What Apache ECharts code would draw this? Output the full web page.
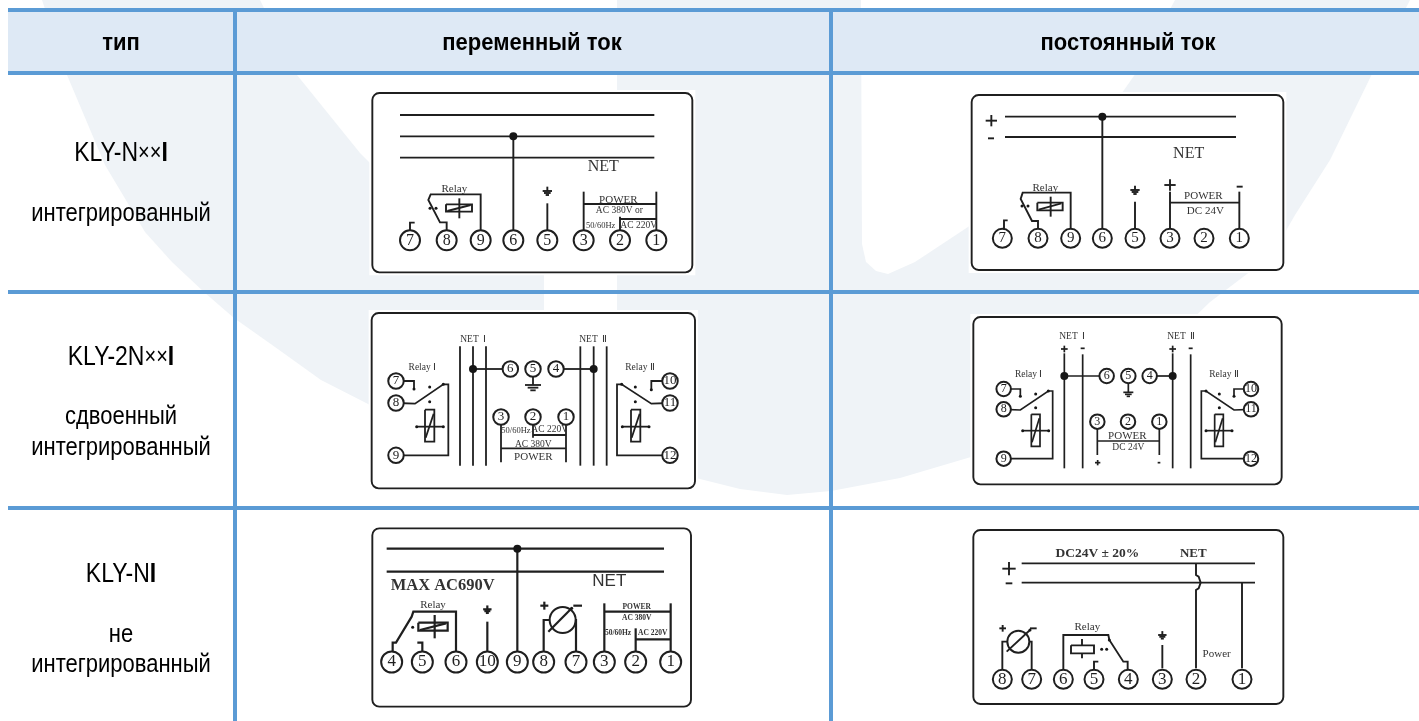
<!DOCTYPE html>
<html>
<head>
<meta charset="utf-8">
<title>KLY</title>
<style>
  html, body { margin: 0; padding: 0; background: #fff; }
  #chart { width: 1419px; height: 721px; }
</style>
<script src="https://cdn.jsdelivr.net/npm/echarts@6/dist/echarts.min.js"></script>
</head>
<body>
<div id="chart"></div>
<script>
// table text
const headerLabels = ['тип', 'переменный ток', 'постоянный ток'];
const headerX = [121, 532, 1128];
const rowLabels = [
  ['{m|KLY-N}{x|××}{b|I}', 121, 153],
  ['интегрированный', 121, 214],
  ['{m|KLY-2N}{x|××}{b|I}', 121, 357],
  ['сдвоенный', 121, 417],
  ['интегрированный', 121, 448],
  ['{m|KLY-N}{b|I}', 121, 574],
  ['не', 121, 635],
  ['интегрированный', 121, 665]
];

// table rules, picture pixels
const tableRules = [
  [[8, 10], [1419, 10]], [[8, 73], [1419, 73]], [[8, 292], [1419, 292]], [[8, 508], [1419, 508]],
  [[235, 10], [235, 721]], [[831, 10], [831, 721]]
];
const headerBand = [[8, 10], [1419, 10], [1419, 73], [8, 73]];

// pale logo behind the table
const logoOutline = [
  [42, 0], [1410, 0], [1371, 76], [1330, 160], [1295, 215], [1272, 255], [1210, 302], [1150, 360], [1060, 420],
  [971, 457], [900, 478], [831, 491], [787, 495], [740, 489], [696, 478], [600, 462], [500, 440], [420, 420], [370, 405],
  [321, 380], [275, 347], [234, 318], [204, 292], [172, 262], [145, 232], [105, 165], [67, 75]
];
const logoHoleLeft = [
  [260, 0], [297, 75], [360, 153], [372, 165], [450, 215], [544, 265], [544, 330], [617, 330], [617, 0]
];
const logoHoleRight = [
  [861, 0], [862, 244], [866, 262], [876, 271], [888, 274], [915, 262], [971, 225], [1060, 160], [1110, 110], [1136, 73], [1175, 0]
];

// diagrams: every number below is in 3x crop units from panelOrigins
const panelOrigins = [[360, 85], [960, 85], [360, 305], [960, 305], [360, 520], [960, 520]];
const panelFrames = [
  [37, 24, 997, 562], [35, 30, 970, 555], [35, 24, 1005, 550],
  [40, 36, 965, 538], [37, 25, 993, 560], [40, 30, 970, 552]
];
const panelStroke = [1.9, 1.9, 1.8, 1.7, 2.2, 1.9];
const pinSize = [20, 19, 15.5, 14.5, 21, 19];
const pinFont = [16, 15, 13, 12, 17, 17];

const earth = (x, y, s) => [
  [[x, y - 13 * s], [x, y]], [[x - 14 * s, y], [x + 14 * s, y]],
  [[x - 10 * s, y + 6 * s], [x + 10 * s, y + 6 * s]], [[x - 5 * s, y + 12 * s], [x + 5 * s, y + 12 * s]]
];
const plus = (x, y, s) => [[[x - s, y], [x + s, y]], [[x, y - s], [x, y + s]]];
const minus = (x, y, s) => [[[x - s, y], [x + s, y]]];
const box = (a, b, c, d) => [[[a, b], [c, b], [c, d], [a, d], [a, b]]];

const wiresAcSingle = [
  [[120, 90], [883, 90]], [[120, 154], [883, 154]], [[120, 218], [883, 218]],
  [[460, 154], [460, 440]],
  [[362, 440], [362, 328], [212, 328], [205, 345], [240, 412], [260, 412], [260, 440]],
  ...box(258, 358, 336, 380), [[262, 378], [332, 360]], [[298, 340], [298, 400]],
  [[150, 440], [150, 413], [164, 413]],
  [[562, 355], [562, 440]], ...earth(562, 318, 1),
  [[671, 320], [671, 440]], [[889, 320], [889, 440]], [[671, 357], [889, 357]],
  [[780, 395], [780, 440]], [[780, 402], [889, 402]]
];
const pinsAcSingle = [['7', 150, 466], ['8', 260, 466], ['9', 362, 466], ['6', 460, 466], ['5', 562, 466], ['3', 671, 466], ['2', 780, 466], ['1', 889, 466]];
const dotsAcSingle = [[460, 154]];
const ticksAcSingle = [[210, 370], [228, 370]];
const textsAcSingle = [
  ['NET', 730, 245, 'net'], ['Relay', 283, 311, 'mid'], ['POWER', 775, 344, 'mid'],
  ['AC 380V or', 778, 375, 'small'], ['50/60Hz', 722, 421, 'tiny'], ['AC 220V', 836, 421, 'small']
];

const wiresDcSingle = [
  [[135, 95], [828, 95]], [[135, 156], [828, 156]], [[427, 95], [427, 440]],
  ...plus(94, 107, 17), ...minus(93, 160, 9),
  [[332, 440], [332, 323], [188, 323], [182, 342], [216, 408], [234, 408], [234, 440]],
  ...box(232, 353, 308, 376), [[236, 374], [304, 355]], [[272, 335], [272, 395]],
  [[132, 440], [132, 406], [143, 406]],
  [[525, 350], [525, 440]], ...earth(525, 315, 1),
  [[630, 320], [630, 440]], [[838, 320], [838, 440]], [[630, 353], [838, 353]],
  ...plus(630, 300, 17), ...minus(839, 305, 9)
];
const pinsDcSingle = [['7', 127, 460], ['8', 234, 460], ['9', 332, 460], ['6', 427, 460], ['5', 525, 460], ['3', 630, 460], ['2', 732, 460], ['1', 838, 460]];
const dotsDcSingle = [[427, 95]];
const ticksDcSingle = [[186, 363], [204, 363]];
const textsDcSingle = [
  ['NET', 686, 205, 'net'], ['Relay', 256, 308, 'mid'], ['POWER', 730, 332, 'mid'], ['DC 24V', 736, 377, 'mid']
];

const wiresAcDouble = [
  [[300, 124], [300, 482]], [[339, 124], [339, 482]], [[378, 124], [378, 482]],
  [[661, 124], [661, 482]], [[701, 124], [701, 482]], [[740, 124], [740, 482]],
  [[339, 192], [431, 192]], [[608, 192], [701, 192]],
  [[519, 192], [519, 240]], [[495, 240], [543, 240]], [[503, 248], [535, 248]], [[511, 256], [527, 256]],
  [[108, 228], [162, 228], [162, 250]],
  [[108, 294], [165, 296], [250, 238], [265, 238], [265, 451], [108, 451]],
  ...box(195, 314, 223, 410), [[197, 398], [221, 326]], [[170, 365], [250, 365]],
  [[930, 228], [874, 228], [874, 252]],
  [[930, 294], [874, 296], [785, 238], [771, 238], [771, 451], [930, 451]],
  ...box(813, 314, 841, 410), [[815, 398], [839, 326]], [[787, 365], [867, 365]],
  [[423, 350], [423, 472]], [[618, 350], [618, 472]], [[423, 430], [618, 430]],
  [[519, 350], [519, 398]], [[519, 390], [618, 390]]
];
const pinsAcDouble = [
  ['6', 451, 192], ['5', 519, 192], ['4', 588, 192], ['7', 108, 228], ['8', 108, 294], ['9', 108, 451],
  ['10', 930, 228], ['11', 930, 294], ['12', 930, 451], ['3', 423, 336], ['2', 519, 336], ['1', 618, 336]
];
const dotsAcDouble = [[339, 192], [701, 192]];
const ticksAcDouble = [[209, 246], [209, 290], [826, 246], [826, 290], [162, 252], [874, 254], [250, 238], [785, 238], [170, 365], [250, 365], [787, 365], [867, 365]];
const textsAcDouble = [
  ['NET  Ⅰ', 340, 102, 'small'], ['NET  Ⅱ', 700, 102, 'small'], ['Relay Ⅰ', 187, 188, 'small'], ['Relay Ⅱ', 840, 188, 'small'],
  ['50/60Hz', 468, 376, 'tiny'], ['AC 220V', 569, 374, 'small'], ['AC 380V', 520, 417, 'small'], ['POWER', 520, 455, 'mid']
];

const wiresDcDouble = [
  [[313, 145], [313, 490]], [[368, 148], [368, 490]], [[638, 145], [638, 490]], [[692, 148], [692, 490]],
  ...plus(313, 132, 10), ...minus(368, 130, 6), ...plus(638, 132, 10), ...minus(692, 130, 6),
  [[313, 213], [420, 213]], [[589, 213], [638, 213]],
  [[505, 225], [505, 262]], [[490, 262], [520, 262]], [[495, 268], [515, 268]], [[500, 274], [510, 274]],
  [[131, 252], [181, 252], [181, 272]],
  [[131, 313], [181, 315], [265, 258], [278, 258], [278, 461], [131, 461]],
  ...box(214, 328, 240, 424), [[216, 412], [238, 340]], [[188, 377], [266, 377]],
  [[873, 252], [822, 252], [822, 272]],
  [[873, 313], [822, 315], [738, 258], [724, 258], [724, 461], [873, 461]],
  ...box(764, 328, 790, 424), [[766, 412], [788, 340]], [[738, 377], [816, 377]],
  [[412, 365], [412, 450]], [[598, 365], [598, 450]], [[412, 408], [598, 408]],
  ...plus(413, 473, 8), ...minus(597, 473, 4)
];
const pinsDcDouble = [
  ['6', 440, 213], ['5', 505, 213], ['4', 569, 213], ['7', 131, 252], ['8', 131, 313], ['9', 131, 461],
  ['10', 873, 252], ['11', 873, 313], ['12', 873, 461], ['3', 412, 350], ['2', 504, 350], ['1', 598, 350]
];
const dotsDcDouble = [[313, 213], [638, 213]];
const ticksDcDouble = [[227, 267], [227, 308], [778, 267], [778, 308], [181, 274], [822, 274], [265, 258], [738, 258], [188, 377], [266, 377], [738, 377], [816, 377]];
const textsDcDouble = [
  ['NET  Ⅰ', 337, 93, 'small'], ['NET  Ⅱ', 664, 93, 'small'], ['Relay Ⅰ', 206, 208, 'small'], ['Relay Ⅱ', 792, 208, 'small'],
  ['POWER', 502, 393, 'mid'], ['DC 24V', 505, 428, 'small']
];

const wiresAcPlain = [
  [[80, 86], [912, 86]], [[80, 155], [912, 155]], [[472, 86], [472, 395]],
  [[288, 396], [288, 275], [160, 275], [155, 290], [108, 368], [98, 368], [98, 396]],
  ...box(175, 308, 263, 332), [[180, 330], [258, 310]], [[224, 285], [224, 355]],
  [[187, 396], [187, 368], [172, 368]],
  [[382, 305], [382, 395]], ...earth(382, 268, 0.9),
  [[551, 396], [551, 300], [570, 300]], [[648, 396], [648, 300], [645, 300]], [[565, 335], [635, 265]],
  ...plus(553, 257, 12), ...minus(653, 257, 13),
  [[733, 250], [733, 396]], [[932, 250], [932, 396]], [[733, 275], [932, 275]],
  [[827, 325], [827, 396]], [[827, 358], [932, 358]]
];
const pinsAcPlain = [
  ['4', 95, 426], ['5', 187, 426], ['6', 288, 426], ['10', 382, 426], ['9', 472, 426],
  ['8', 551, 426], ['7', 648, 426], ['3', 733, 426], ['2', 827, 426], ['1', 932, 426]
];
const ringsAcPlain = [[608, 300]];
const dotsAcPlain = [[472, 86]];
const ticksAcPlain = [[158, 322], [635, 265]];
const textsAcPlain = [
  ['MAX AC690V', 248, 197, 'max'], ['NET', 748, 183, 'netSans'], ['Relay', 219, 254, 'mid'],
  ['POWER', 830, 261, 'boldTiny'], ['AC 380V', 830, 295, 'boldTiny'], ['50/60Hz', 774, 338, 'boldTiny'], ['AC 220V', 878, 338, 'boldTiny']
];

const wiresDcPlain = [
  [[185, 130], [885, 130]], [[185, 188], [885, 188]],
  ...plus(147, 146, 20), ...minus(147, 190, 10),
  [[708, 130], [708, 165], [716, 170], [722, 188], [716, 205], [708, 210], [708, 445]],
  [[846, 188], [846, 445]],
  [[310, 450], [310, 345], [445, 345], [448, 360], [490, 425], [503, 425], [503, 450]],
  ...box(333, 376, 402, 400), [[366, 357], [366, 376]], [[366, 400], [366, 415]],
  [[402, 450], [402, 425], [415, 425]],
  [[607, 375], [607, 445]], ...earth(607, 345, 0.9),
  [[127, 450], [127, 365], [143, 365]], [[215, 450], [215, 365], [207, 365]], [[140, 395], [210, 330]],
  ...plus(128, 325, 10), ...minus(220, 325, 10)
];
const pinsDcPlain = [
  ['8', 127, 478], ['7', 215, 478], ['6', 310, 478], ['5', 402, 478], ['4', 505, 478],
  ['3', 607, 478], ['2', 708, 478], ['1', 846, 478]
];
const ringsDcPlain = [[175, 365]];
const dotsDcPlain = [];
const ticksDcPlain = [[425, 388], [440, 388], [448, 360], [210, 330]];
const textsDcPlain = [
  ['DC24V ± 20%', 412, 100, 'dc'], ['NET', 700, 100, 'netBold'], ['Relay', 382, 320, 'mid'], ['Power', 770, 401, 'mid']
];

const panelWires = [wiresAcSingle, wiresDcSingle, wiresAcDouble, wiresDcDouble, wiresAcPlain, wiresDcPlain];
const panelPins = [pinsAcSingle, pinsDcSingle, pinsAcDouble, pinsDcDouble, pinsAcPlain, pinsDcPlain];
const panelDots = [dotsAcSingle, dotsDcSingle, dotsAcDouble, dotsDcDouble, dotsAcPlain, dotsDcPlain];
const panelTicks = [ticksAcSingle, ticksDcSingle, ticksAcDouble, ticksDcDouble, ticksAcPlain, ticksDcPlain];
const panelTexts = [textsAcSingle, textsDcSingle, textsAcDouble, textsDcDouble, textsAcPlain, textsDcPlain];
const panelRings = [[], [], [], [], ringsAcPlain, ringsDcPlain];
const ringSize = [0, 0, 0, 0, 26, 22];

const SERIF = '"Liberation Serif", serif';
const SANS = '"Liberation Sans", Arial, sans-serif';
const labelFonts = {
  net: '16px ' + SERIF, netBold: 'bold 13px ' + SERIF, netSans: '500 17px ' + SANS,
  mid: '11px ' + SERIF, small: '9.5px ' + SERIF, tiny: '8.5px ' + SERIF,
  boldTiny: 'bold 7.5px ' + SERIF, max: 'bold 16.5px ' + SERIF, dc: 'bold 13.5px ' + SERIF
};
const INK = '#1f1f1f';

const toPic = (i, p) => [panelOrigins[i][0] + p[0] / 3, panelOrigins[i][1] + p[1] / 3];

const allWires = [];
const allPins = [];
const allDots = [];
const allTicks = [];
const allRings = [];
const allTexts = [];
const allFrames = [];
panelOrigins.forEach((_, i) => {
  const f = panelFrames[i];
  allFrames.push({ a: toPic(i, [f[0], f[1]]), b: toPic(i, [f[2], f[3]]) });
  panelWires[i].forEach(w => allWires.push({ pts: w.map(p => toPic(i, p)), w: panelStroke[i] }));
  panelPins[i].forEach(p => {
    const c = toPic(i, [p[1], p[2]]);
    allPins.push({ name: p[0], value: [c[0], c[1]], size: pinSize[i], font: pinFont[i] });
  });
  panelDots[i].forEach(p => allDots.push(toPic(i, p)));
  panelTicks[i].forEach(p => allTicks.push(toPic(i, p)));
  panelRings[i].forEach(p => allRings.push({ value: toPic(i, p), size: ringSize[i] }));
  panelTexts[i].forEach(t => allTexts.push({ text: t[0], at: toPic(i, [t[1], t[2]]), font: labelFonts[t[3]] }));
});

const idx = list => list.map((_, i) => [i]);

const shapes = [
  { pts: logoOutline, fill: '#EFF3F7' },
  { pts: logoHoleLeft, fill: '#FFFFFF' },
  { pts: logoHoleRight, fill: '#FFFFFF' },
  { pts: headerBand, fill: '#DEE9F5' }
];

const chart = echarts.init(document.getElementById('chart'), null, { renderer: 'canvas' });
chart.setOption({
  animation: false,
  backgroundColor: '#fff',
  grid: { left: 0, right: 0, top: 0, bottom: 0 },
  xAxis: { type: 'value', min: 0, max: 1419, show: false },
  yAxis: { type: 'value', min: 0, max: 721, inverse: true, show: false },
  series: [
    {
      type: 'custom', silent: true, clip: false, z: 1, data: idx(shapes),
      renderItem: (p, api) => {
        const s = shapes[api.value(0)];
        return { type: 'polygon', shape: { points: s.pts.map(q => api.coord(q)) }, style: { fill: s.fill } };
      }
    },
    {
      // white image plate plus rounded frame
      type: 'custom', silent: true, clip: false, z: 2, data: idx(allFrames),
      renderItem: (p, api) => {
        const f = allFrames[api.value(0)];
        const a = api.coord(f.a), b = api.coord(f.b);
        return {
          type: 'group',
          children: [
            { type: 'rect', shape: { x: a[0] - 3, y: a[1] - 3, width: b[0] - a[0] + 6, height: b[1] - a[1] + 6 }, style: { fill: '#fff' } },
            { type: 'rect', shape: { x: a[0], y: a[1], width: b[0] - a[0], height: b[1] - a[1], r: 7 }, style: { fill: '#fff', stroke: INK, lineWidth: 1.9 } }
          ]
        };
      }
    },
    {
      type: 'scatter', silent: true, z: 3, symbol: 'circle',
      data: allRings.map(r => ({ value: r.value, symbolSize: r.size })),
      itemStyle: { color: '#fff', borderColor: INK, borderWidth: 2, opacity: 1 }
    },
    {
      type: 'custom', silent: true, clip: false, z: 4, data: idx(allWires),
      renderItem: (p, api) => {
        const w = allWires[api.value(0)];
        return { type: 'polyline', shape: { points: w.pts.map(q => api.coord(q)) }, style: { stroke: INK, lineWidth: w.w, fill: null } };
      }
    },
    {
      type: 'scatter', silent: true, z: 5, symbol: 'circle', symbolSize: 8,
      itemStyle: { color: '#161616', opacity: 1 }, data: allDots
    },
    {
      type: 'scatter', silent: true, z: 5, symbol: 'circle', symbolSize: 3,
      itemStyle: { color: '#161616', opacity: 1 }, data: allTicks
    },
    {
      type: 'scatter', silent: true, z: 6, symbol: 'circle',
      data: allPins.map(d => ({
        name: d.name, value: d.value, symbolSize: d.size,
        label: { show: true, position: 'inside', formatter: d.name, color: INK, fontFamily: SERIF, fontSize: d.font }
      })),
      itemStyle: { color: '#fff', borderColor: INK, borderWidth: 2, opacity: 1 }
    },
    {
      type: 'custom', silent: true, clip: false, z: 7, data: idx(allTexts),
      renderItem: (p, api) => {
        const t = allTexts[api.value(0)];
        const c = api.coord(t.at);
        return { type: 'text', x: c[0], y: c[1], style: { text: t.text, font: t.font, fill: '#333', align: 'center', verticalAlign: 'middle' } };
      }
    },
    {
      type: 'custom', silent: true, clip: false, z: 7, data: idx(headerLabels),
      renderItem: (p, api) => {
        const i = api.value(0);
        const c = api.coord([headerX[i], 43]);
        return {
          type: 'text', x: c[0], y: c[1], scaleY: 1.12,
          style: { text: headerLabels[i], font: 'bold 22px ' + SANS, fill: '#000', align: 'center', verticalAlign: 'middle' }
        };
      }
    },
    {
      type: 'custom', silent: true, clip: false, z: 7, data: idx(rowLabels),
      renderItem: (p, api) => {
        const r = rowLabels[api.value(0)];
        const c = api.coord([r[1], r[2]]);
        return {
          type: 'text', x: c[0], y: c[1], scaleY: 1.2,
          style: {
            text: r[0], font: '22px ' + SANS, fill: '#000', align: 'center', verticalAlign: 'middle',
            rich: {
              m: { font: '23px ' + SANS, fill: '#000' },
              x: { font: '20px ' + SANS, fill: '#000' },
              b: { font: 'bold 23px ' + SANS, fill: '#000' }
            }
          }
        };
      }
    },
    {
      type: 'custom', silent: true, clip: false, z: 8, data: idx(tableRules),
      renderItem: (p, api) => {
        const r = tableRules[api.value(0)];
        return { type: 'polyline', shape: { points: r.map(q => api.coord(q)) }, style: { stroke: '#5B9BD5', lineWidth: 4, fill: null } };
      }
    }
  ]
});
</script>
</body>
</html>
